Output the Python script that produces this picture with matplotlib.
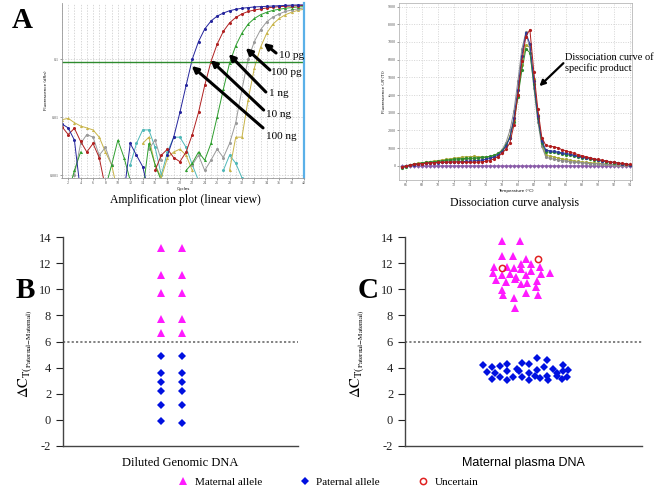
import numpy as np
import matplotlib.pyplot as plt
from matplotlib.lines import Line2D

plt.rcParams['font.family'] = ['Liberation Serif', 'DejaVu Serif']
plt.rcParams['mathtext.fontset'] = 'stix'
plt.rcParams['axes.unicode_minus'] = False

nan = np.nan

# ---- panel A left: amplification plot (fluorescence per cycle) ----
cycles = np.arange(1, 41)
amp_blue = [0.0076, 0.0065, 0.004, 0.0005, nan, nan, nan, nan, nan, nan,
            0.0005, 0.0035, 0.0022, 0.0014, 0.0005, nan, nan, 0.0022, 0.0045, 0.012,
            0.035, 0.1, 0.2, 0.33, 0.45, 0.55, 0.62, 0.68, 0.72, 0.75,
            0.77, 0.79, 0.8, 0.81, 0.82, 0.83, 0.84, 0.85, 0.855, 0.86]
amp_red = [0.0068, 0.005, 0.0064, 0.0038, 0.0025, 0.0035, 0.002, 0.0006, nan, nan,
           nan, nan, nan, nan, nan, 0.0012, 0.0022, 0.0028, 0.002, 0.0017,
           0.0025, 0.005, 0.012, 0.035, 0.09, 0.18, 0.3, 0.42, 0.52, 0.6,
           0.66, 0.7, 0.73, 0.76, 0.78, 0.8, 0.81, 0.82, 0.83, 0.84]
amp_green = [nan, 0.0005, 0.0012, 0.0025, nan, nan, nan, 0.0006, 0.0015, 0.004,
             0.002, 0.0008, nan, 0.0005, 0.0035, 0.0015, 0.0008, nan, nan, nan,
             0.0012, 0.0016, 0.0025, 0.0018, 0.0035, 0.01, 0.03, 0.085, 0.17, 0.28,
             0.4, 0.5, 0.58, 0.64, 0.69, 0.72, 0.75, 0.77, 0.79, 0.8]
amp_gray = [nan, nan, 0.001, 0.0035, 0.005, 0.0045, 0.0022, 0.003, 0.0015, nan,
            nan, nan, nan, nan, 0.0028, 0.004, 0.0018, nan, nan, nan,
            nan, 0.0015, 0.0022, 0.0012, 0.0018, 0.0028, 0.002, 0.0035, 0.008, 0.03,
            0.1, 0.2, 0.32, 0.44, 0.53, 0.6, 0.66, 0.7, 0.73, 0.76]
amp_yellow = [0.009, 0.0095, 0.008, 0.007, 0.0065, 0.006, 0.0045, 0.0025, 0.0015, 0.0005,
              nan, nan, nan, 0.0035, 0.0045, 0.0015, 0.0009, 0.002, 0.0025, 0.0028,
              0.0022, 0.0012, nan, 0.0008, nan, nan, nan, 0.0012, 0.0045, 0.0045,
              0.02, 0.07, 0.16, 0.28, 0.4, 0.5, 0.58, 0.64, 0.69, 0.72]
amp_cyan = [nan, nan, nan, nan, nan, nan, nan, nan, nan, nan,
            nan, 0.0015, 0.0035, 0.006, 0.006, 0.003, 0.001, 0.0025, 0.0045, 0.0045,
            0.003, 0.0015, 0.0008, nan, nan, nan, 0.0012, 0.0022, 0.0016, 0.0009,
            nan, nan, nan, nan, nan, nan, nan, nan, nan, nan]
threshold = 0.0888
dilution_labels = ['10 pg', '100 pg', '1 ng', '10 ng', '100 ng']

# ---- panel A right: dissociation curves, 65.5 .. 94 C every 0.5 ----
temps = np.arange(65.5, 94.01, 0.5)
dis_red = [-60, -20, 40, 80, 110, 130, 150, 170, 180, 190,
           200, 210, 215, 220, 215, 205, 200, 195, 200, 210,
           230, 260, 300, 400, 520, 700, 950, 1300, 2300, 4000,
           5900, 7300, 7700, 5300, 3200, 1600, 1150, 1100, 1080, 1020,
           920, 850, 780, 710, 640, 580, 520, 460, 410, 360,
           320, 280, 240, 200, 170, 140, 110, 80]
dis_blue = [-80, -30, 30, 70, 100, 120, 140, 160, 170, 180,
            190, 200, 210, 220, 230, 240, 250, 260, 280, 300,
            330, 370, 420, 500, 600, 800, 1100, 1600, 2700, 4300,
            6200, 7500, 6900, 4800, 2800, 1400, 900, 850, 820, 780,
            740, 700, 660, 610, 560, 510, 460, 420, 380, 340,
            300, 260, 220, 190, 160, 130, 100, 70]
dis_green = [-100, -40, 20, 80, 130, 160, 190, 210, 240, 260,
             290, 320, 350, 380, 400, 410, 420, 430, 440, 460,
             480, 500, 540, 600, 700, 850, 1150, 1600, 2500, 3900,
             5400, 6600, 6400, 4600, 2700, 1300, 800, 780, 760, 720,
             680, 640, 600, 560, 510, 470, 430, 390, 350, 310,
             270, 240, 210, 180, 150, 120, 90, 60]
dis_olive = [-60, 0, 60, 110, 150, 180, 210, 240, 270, 300,
             330, 360, 400, 430, 460, 490, 510, 520, 530, 520,
             510, 500, 520, 580, 680, 850, 1150, 1700, 2600, 4000,
             5700, 6800, 6700, 4900, 2900, 1200, 600, 550, 500, 450,
             400, 360, 320, 280, 250, 220, 200, 180, 160, 140,
             120, 100, 90, 80, 70, 60, 50, 40]
dis_gray = [-40, 10, 60, 100, 130, 150, 170, 190, 210, 230,
            250, 270, 290, 310, 330, 350, 370, 390, 410, 430,
            450, 470, 500, 560, 680, 900, 1300, 2000, 3100, 4800,
            6600, 7550, 6600, 4400, 2500, 1100, 500, 420, 380, 340,
            300, 270, 240, 210, 190, 170, 150, 130, 120, 110,
            100, 90, 80, 70, 60, 50, 40, 30]
dis_purple = [-20, -10, 0, 0, 0, 0, 0, 0, 0, 0,
              0, 0, 0, 0, 0, 0, 0, 0, 0, 0,
              0, 0, 0, 0, 0, 0, 0, 0, 0, 0,
              0, 0, 0, 0, 0, 0, 0, 0, 0, 0,
              0, 0, 0, 0, 0, 0, 0, 0, 0, 0,
              0, 0, 0, 0, 0, 0, 0, 0]

# ---- panel B: diluted genomic DNA, two replicate columns ----
b_maternal_1 = [13.15, 11.1, 9.75, 7.75, 6.65]
b_maternal_2 = [13.15, 11.1, 9.75, 7.75, 6.65]
b_paternal_1 = [4.92, 3.56, 2.87, 2.18, 1.15, -0.1]
b_paternal_2 = [4.92, 3.56, 2.87, 2.18, 1.15, -0.23]

# ---- panel C: maternal plasma DNA ----
c_maternal_x = [4.09, 4.85, 4.09, 4.56, 5.11, 3.76, 4.30, 4.60, 4.89, 4.89, 5.32,
                5.70, 3.71, 4.09, 4.43, 5.32, 4.68, 5.11, 5.74, 6.12, 3.84, 4.26,
                4.89, 5.15, 5.57, 5.53, 4.09, 4.14, 5.11, 5.61, 4.60, 4.64, 4.64]
c_maternal_y = [13.67, 13.67, 12.58, 12.56, 12.3, 11.68, 11.72, 11.6, 11.97, 11.54, 11.92,
                11.72, 11.28, 11.1, 11.15, 11.41, 10.95, 11.08, 11.15, 11.28, 10.69, 10.59,
                10.44, 10.46, 10.64, 10.18, 9.92, 9.56, 9.69, 9.56, 9.36, 8.54, 10.8]
c_paternal_x = [3.29, 3.67, 4.01, 4.30, 3.46, 3.80, 4.30, 3.67, 4.01, 4.30, 4.56, 4.73,
                4.81, 4.94, 5.23, 5.57, 5.99, 4.94, 5.23, 5.23, 5.57, 5.49, 5.70, 5.86,
                5.99, 6.03, 6.24, 6.41, 6.67, 6.67, 6.88, 6.41, 6.84, 6.62]
c_paternal_y = [4.23, 4.03, 4.1, 4.31, 3.64, 3.59, 3.72, 3.13, 3.26, 3.03, 3.28, 3.9,
                3.72, 4.36, 4.28, 4.77, 4.56, 3.28, 3.59, 3.03, 3.85, 3.33, 3.21, 4.05,
                3.33, 3.03, 3.9, 3.33, 4.23, 3.72, 3.85, 3.59, 3.28, 3.13]
c_uncertain_x = [4.09, 5.61]
c_uncertain_y = [11.64, 12.33]
cutoff = 6

W, H = 661, 493


def box(left, top, right, bottom):
    # pixel box -> figure fraction rect
    return [left / W, 1 - bottom / H, (right - left) / W, (bottom - top) / H]


fig = plt.figure(figsize=(6.61, 4.93), dpi=100)

# ================= A left =================
ax1 = fig.add_axes(box(62, 3, 304, 178))
amp_series = [(amp_cyan, '#4fb8b8', 'o'), (amp_yellow, '#c8b448', '^'),
              (amp_gray, '#9a9a9a', 'o'), (amp_green, '#2e9e2e', '^'),
              (amp_red, '#b02020', 'o'), (amp_blue, '#24249c', 'o')]
for vals, col, mk in amp_series:
    ax1.plot(cycles, vals, '-', marker=mk, color=col, ms=2.2, lw=0.7, mew=0)
ax1.axhline(threshold, color='#2e8b2e', lw=1)
ax1.set_yscale('log')
ax1.set_xlim(1, 40)
ax1.set_ylim(0.00089, 0.924)
ax1.set_xticks(range(2, 41, 2))
ax1.set_xticks(range(1, 41), minor=True)
ax1.set_yticks([0.001, 0.01, 0.1])
ax1.set_yticklabels(['0.001', '0.01', '0.1'])
ax1.yaxis.set_minor_locator(plt.NullLocator())
ax1.grid(which='both', axis='x', ls=(0, (2, 2)), color='#c8c8c8', lw=0.5)
ax1.grid(which='major', axis='y', ls=(0, (2, 2)), color='#c8c8c8', lw=0.5)
ax1.tick_params(labelsize=3, length=1.5, width=0.4, pad=1, colors='#555555')
ax1.tick_params(which='minor', length=1, width=0.3)
ax1.set_xlabel('Cycles', fontsize=3, labelpad=1, family='DejaVu Sans')
ax1.set_ylabel('Fluorescence (dRn)', fontsize=3, labelpad=1, family='DejaVu Sans')
ax1.spines['top'].set_visible(False)
ax1.spines['right'].set_color('#5ab0e8')
ax1.spines['right'].set_linewidth(1.6)
for s in ['left', 'bottom']:
    ax1.spines[s].set_color('#999999')
    ax1.spines[s].set_linewidth(0.6)

arrow_heads = [(33.5, 0.189), (30.6, 0.155), (27.86, 0.122), (24.95, 0.096), (21.9, 0.076)]
arrow_tails = [(35.5, 0.127), (34.5, 0.0646), (33.85, 0.027), (33.5, 0.0132), (33.4, 0.0065)]
label_pos = [(36.0, 0.117), (34.7, 0.058), (34.3, 0.025), (33.9, 0.0112), (33.9, 0.0047)]
for lab, head, tail, pos in zip(dilution_labels, arrow_heads, arrow_tails, label_pos):
    ax1.annotate('', xy=head, xytext=tail,
                 arrowprops=dict(arrowstyle='-|>', color='k', lw=2.2,
                                 mutation_scale=9, shrinkA=0, shrinkB=0))
    ax1.text(pos[0], pos[1], lab, fontsize=8, va='center', ha='left')

# ================= A right =================
ax2 = fig.add_axes(box(399, 3, 632, 180))
dis_series = [(dis_purple, '#8a5ca8', 'D'), (dis_olive, '#a8a838', 'o'),
              (dis_gray, '#8c8c8c', 'o'), (dis_green, '#2e8b2e', 'o'),
              (dis_blue, '#2a3a9a', 'o'), (dis_red, '#b01c1c', 'o')]
for vals, col, mk in dis_series:
    ax2.plot(temps, vals, '-', marker=mk, color=col, ms=2.3, lw=0.7, mew=0)
ax2.set_xlim(65.1, 94.3)
ax2.set_ylim(-800, 9200)
ax2.set_xticks(range(66, 95, 2))
ax2.set_yticks(range(0, 9001, 1000))
ax2.grid(True, ls=(0, (1.5, 2)), color='#c8c8c8', lw=0.5)
ax2.tick_params(labelsize=3, length=1.5, width=0.4, pad=1, colors='#555555')
ax2.set_xlabel('Temperature (\u00b0C)', fontsize=3, labelpad=1, family='DejaVu Sans')
ax2.set_ylabel("Fluorescence (-R'(T))", fontsize=3, labelpad=1, family='DejaVu Sans')
for s in ax2.spines.values():
    s.set_color('#aaaaaa')
    s.set_linewidth(0.5)
ax2.annotate('', xy=(82.7, 4500), xytext=(85.7, 5800),
             arrowprops=dict(arrowstyle='-|>', color='k', lw=1.6,
                             mutation_scale=8, shrinkA=0, shrinkB=0))
ax2.text(85.9, 5800, 'Dissociation curve of\nspecific product', fontsize=7.5,
         va='center', ha='left', linespacing=1.15)

fig.text(185 / W, 1 - 200 / H, 'Amplification plot (linear view)', fontsize=8.5,
         ha='center', va='center')
fig.text(515 / W, 1 - 203 / H, 'Dissociation curve analysis', fontsize=8.5,
         ha='center', va='center')

# ================= B and C =================
tri_color = '#ff1aff'
dia_color = '#0010e0'
ylabel = r'$\Delta\mathrm{C}_{\mathrm{T}{(}_{\mathrm{Paternal{-}Maternal)}}}$'


def style_scatter(ax, xlabel, xfont, label_x):
    ax.axhline(cutoff, color='#777777', ls=(0, (1.2, 1.2)), lw=1.3)
    ax.set_ylim(-2, 14)
    ax.set_xlim(0, 10)
    ax.set_yticks(range(-2, 15, 2))
    ax.set_xticks([])
    ax.spines['top'].set_visible(False)
    ax.spines['right'].set_visible(False)
    for s in ['left', 'bottom']:
        ax.spines[s].set_color('#444444')
        ax.spines[s].set_linewidth(1.0)
    ax.tick_params(axis='y', labelsize=9, length=5, width=0.8, direction='out',
                   colors='#222222')
    ax.set_xlabel(xlabel, fontsize=9, labelpad=8, family=xfont)
    ax.set_ylabel(ylabel, fontsize=10.5)
    ax.yaxis.set_label_coords(label_x, 0.44)


axB = fig.add_axes(box(63, 237, 298, 446))
col_pos = [4.15, 5.05]
axB.plot([col_pos[0]] * len(b_maternal_1), b_maternal_1, '^', color=tri_color, ms=6, mew=0)
axB.plot([col_pos[1]] * len(b_maternal_2), b_maternal_2, '^', color=tri_color, ms=6, mew=0)
axB.plot([col_pos[0]] * len(b_paternal_1), b_paternal_1, 'D', color=dia_color, ms=4, mew=0)
axB.plot([col_pos[1]] * len(b_paternal_2), b_paternal_2, 'D', color=dia_color, ms=4, mew=0)
style_scatter(axB, 'Diluted Genomic DNA', ['Liberation Serif'], -0.12)

axC = fig.add_axes(box(405, 237, 642, 446))
axC.plot(c_maternal_x, c_maternal_y, '^', color=tri_color, ms=6, mew=0)
axC.plot(c_paternal_x, c_paternal_y, 'D', color=dia_color, ms=4, mew=0)
axC.plot(c_uncertain_x, c_uncertain_y, 'o', mfc='none', mec='#e02020', ms=4.5, mew=1.1)
style_scatter(axC, 'Maternal plasma DNA', ['Liberation Sans'], -0.16)

# panel letters
fig.text(22 / W, 1 - 20 / H, 'A', fontsize=21, weight='bold', ha='center', va='center')
fig.text(25 / W, 1 - 291 / H, 'B', fontsize=21, weight='bold', ha='center', va='center')
fig.text(368 / W, 1 - 291 / H, 'C', fontsize=21, weight='bold', ha='center', va='center')

# legend
handles = [Line2D([], [], ls='none', marker='^', color=tri_color, ms=6, mew=0),
           Line2D([], [], ls='none', marker='D', color=dia_color, ms=4, mew=0),
           Line2D([], [], ls='none', marker='o', mfc='none', mec='#e02020', ms=4.5, mew=1.1)]
fig.legend(handles, ['Maternal allele', 'Paternal allele', 'Uncertain'], ncol=3,
           loc='center', bbox_to_anchor=(328 / W, 1 - 482 / H), frameon=False,
           fontsize=8, handlelength=1, handletextpad=0.5, columnspacing=3.4)

fig.savefig('out.png', dpi=100)
